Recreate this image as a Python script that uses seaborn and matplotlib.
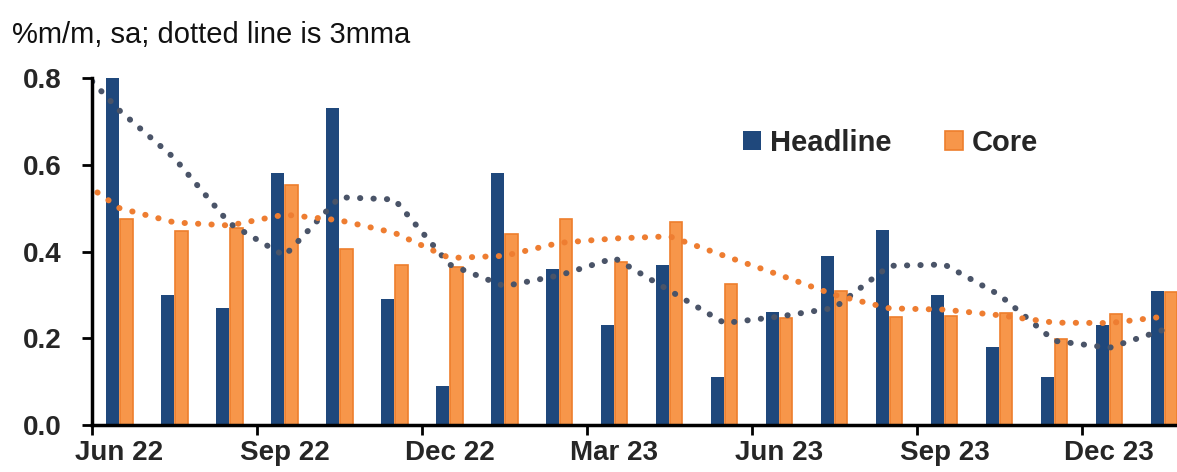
import numpy as np
import pandas as pd
import seaborn as sns
import matplotlib
matplotlib.use('Agg')
import matplotlib.pyplot as plt
from matplotlib.font_manager import FontProperties

# Datos mensuales (% m/m, sa)
months = ['Jun 22', 'Jul 22', 'Aug 22', 'Sep 22', 'Oct 22', 'Nov 22', 'Dec 22',
          'Jan 23', 'Feb 23', 'Mar 23', 'Apr 23', 'May 23', 'Jun 23', 'Jul 23',
          'Aug 23', 'Sep 23', 'Oct 23', 'Nov 23', 'Dec 23', 'Jan 24']
headline = [0.80, 0.30, 0.27, 0.58, 0.73, 0.29, 0.09, 0.58, 0.36, 0.23,
            0.37, 0.11, 0.26, 0.39, 0.45, 0.30, 0.18, 0.11, 0.23, 0.31]
core = [0.475, 0.448, 0.455, 0.554, 0.405, 0.369, 0.365, 0.44, 0.475, 0.375,
        0.468, 0.326, 0.246, 0.309, 0.248, 0.252, 0.258, 0.198, 0.256, 0.306]

# 3mma (empieza en May 22, fuera del eje)
ma_months = ['May 22'] + months
headline_3mma = [0.86, 0.725, 0.615, 0.465, 0.39, 0.525, 0.52, 0.37, 0.32, 0.345,
                 0.385, 0.31, 0.235, 0.25, 0.27, 0.367, 0.37, 0.30, 0.194, 0.178, 0.22]
core_3mma = [0.59, 0.50, 0.467, 0.46, 0.485, 0.472, 0.443, 0.385, 0.39, 0.42,
             0.43, 0.435, 0.39, 0.346, 0.30, 0.269, 0.266, 0.253, 0.236, 0.235, 0.25]

tick_labels = ['Jun 22', 'Sep 22', 'Dec 22', 'Mar 23', 'Jun 23', 'Sep 23', 'Dec 23']

sns.set_style('white')
plt.rcParams['font.family'] = ['Liberation Sans', 'DejaVu Sans']

df = pd.DataFrame({
    'month': months * 2,
    'value': headline + core,
    'series': ['Headline'] * len(months) + ['Core'] * len(months),
})

fig = plt.figure(figsize=(11.77, 4.72), dpi=100)
ax = fig.add_axes([92 / 1177, 47 / 472, 1085 / 1177, 347 / 472])

sns.barplot(data=df, x='month', y='value', hue='series', order=months,
            hue_order=['Headline', 'Core'],
            palette={'Headline': '#1F487C', 'Core': '#F7964A'},
            width=0.5, gap=0.1, saturation=1, legend=False, ax=ax)

# borde naranja para Core
for p in ax.containers[1]:
    p.set_edgecolor('#EE7E2C')
    p.set_linewidth(1.2)
for p in ax.containers[0]:
    p.set_edgecolor('none')

# lineas punteadas (3mma)
pos = [months.index(m) if m in months else -1 for m in ma_months]
ax.plot(pos, headline_3mma, color='#4A5468', lw=4.3, linestyle=(0, (0.05, 2.2)),
        dash_capstyle='round', zorder=5)
ax.plot(pos, core_3mma, color='#EE7D31', lw=4.3, linestyle=(0, (0.05, 2.2)),
        dash_capstyle='round', zorder=5)

ax.set_xlim(-0.5, 19.23)
ax.set_ylim(0, 0.8)

sns.despine(ax=ax)
for s in ['left', 'bottom']:
    ax.spines[s].set_linewidth(2.5)
    ax.spines[s].set_color('black')
ax.spines['left'].set_zorder(6)

ax.set_yticks([0, 0.2, 0.4, 0.6, 0.8])
ax.set_yticklabels(['0.0', '0.2', '0.4', '0.6', '0.8'])
ax.set_xticks([months.index(t) for t in tick_labels])
ax.set_xticklabels(tick_labels)
ax.set_xticks(np.arange(-0.5, 19, 3), minor=True)
ax.tick_params(which='both', left=True, bottom=True)
ax.tick_params(axis='y', direction='out', length=7, width=2, color='black',
               pad=15, labelsize=20)
ax.tick_params(axis='x', which='major', length=0, pad=11, labelsize=20)
ax.tick_params(axis='x', which='minor', direction='out', length=7, width=2,
               color='black')
for lbl in ax.get_xticklabels() + ax.get_yticklabels():
    lbl.set_fontweight('bold')
ax.set_xlabel('')
ax.set_ylabel('')

# leyenda
handles = [ax.containers[0][0], ax.containers[1][0]]
leg_font = FontProperties(family=['Liberation Sans'], weight='bold', size=21)
ax.legend(handles, ['Headline', 'Core'], ncol=2, frameon=False, prop=leg_font,
          loc='center left', bbox_to_anchor=(743 / 1177, 1 - 143 / 472),
          bbox_transform=fig.transFigure, borderpad=0, borderaxespad=0,
          handlelength=0.62, handleheight=0.62, handletextpad=0.3,
          columnspacing=1.85)

fig.text(12 / 1177, 1 - 43 / 472, '%m/m, sa; dotted line is 3mma',
         fontsize=21, va='baseline', ha='left', color='#111111')

fig.savefig('out.png', dpi=100)
